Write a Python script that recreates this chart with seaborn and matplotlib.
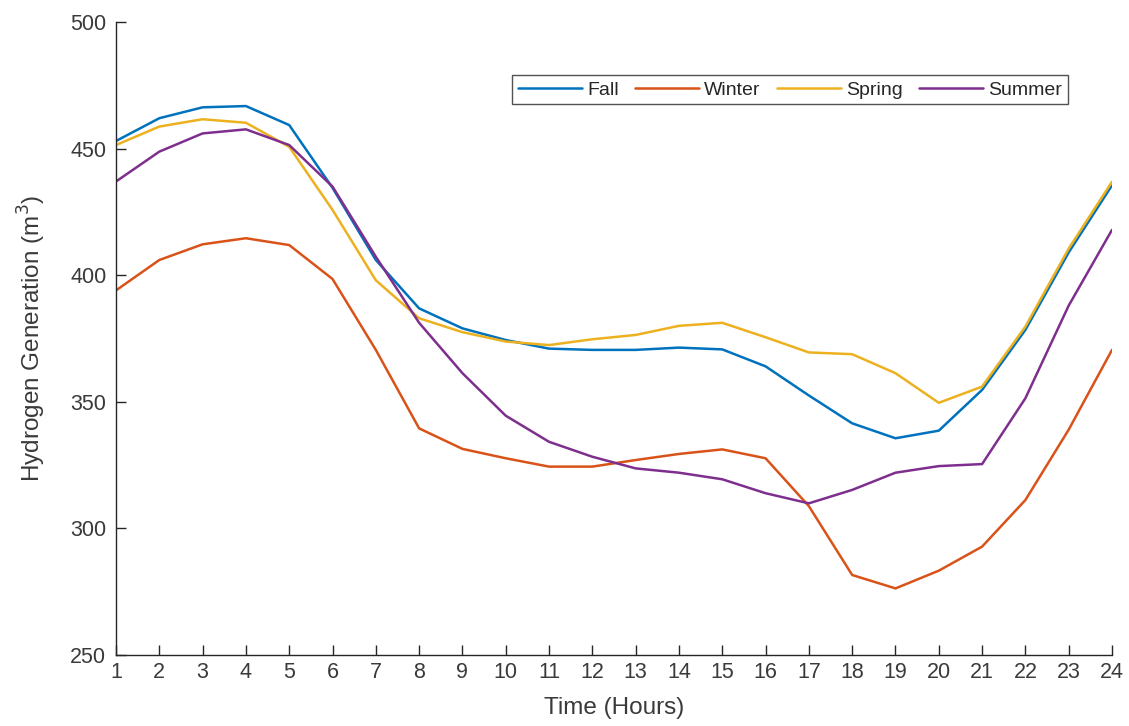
import numpy as np
import pandas as pd
import matplotlib
matplotlib.use("Agg")
import matplotlib.pyplot as plt
import seaborn as sns

hours = list(range(1, 25))
fall = [453, 462, 466.3, 466.8, 459.3, 434.5, 406, 386.9, 379, 374.4, 371, 370.5,
        370.5, 371.4, 370.7, 364, 352.5, 341.5, 335.6, 338.6, 354.7, 378.4, 409, 435.5]
winter = [394, 406, 412.2, 414.6, 411.9, 398.5, 370.5, 339.5, 331.4, 327.7, 324.4, 324.4,
          327, 329.4, 331.2, 327.7, 308.8, 281.6, 276.3, 283.3, 292.8, 311.2, 339, 370.5]
spring = [451.4, 458.7, 461.6, 460.2, 450.7, 425.8, 398, 383, 377.5, 373.8, 372.4, 374.7,
          376.4, 380, 381.2, 375.5, 369.5, 368.8, 361.3, 349.6, 356, 379.7, 410.5, 436.9]
summer = [437, 448.8, 456, 457.6, 451.4, 435, 407.3, 381.2, 361.3, 344.5, 334.2, 328.3,
          323.7, 322, 319.4, 313.9, 309.9, 315.2, 322, 324.6, 325.4, 351.4, 388, 417.9]
seasons = ["Fall", "Winter", "Spring", "Summer"]
colors = ["#0072BD", "#D95319", "#EDB120", "#7E2F8E"]

df = pd.concat([
    pd.DataFrame({"Hour": hours, "Value": vals, "Season": name})
    for name, vals in zip(seasons, [fall, winter, spring, summer])
], ignore_index=True)

sns.set_style("white")
plt.rcParams["font.family"] = ["Liberation Sans", "DejaVu Sans"]

fig = plt.figure(figsize=(11.29, 7.26), dpi=100)
ax = fig.add_axes([116 / 1129, 1 - 655 / 726, (1112 - 116) / 1129, (655 - 22) / 726])

sns.lineplot(data=df, x="Hour", y="Value", hue="Season", hue_order=seasons,
             palette=dict(zip(seasons, colors)), linewidth=1.8, ax=ax)

ax.set_xlim(1, 24)
ax.set_ylim(250, 500)
ax.set_xticks(hours)
ax.set_yticks([250, 300, 350, 400, 450, 500])
for s in ["top", "right"]:
    ax.spines[s].set_visible(False)
for s in ["left", "bottom"]:
    ax.spines[s].set_color("#262626")
    ax.spines[s].set_linewidth(1.0)
ax.tick_params(bottom=True, left=True, direction="in", length=7, width=1.0,
               colors="#262626", labelsize=15.5, labelcolor="#3a3a3a")
ax.tick_params(axis="y", pad=7)
ax.tick_params(axis="x", pad=5)

ax.set_xlabel("Time (Hours)", fontsize=17.5, color="#3a3a3a", labelpad=10)
ax.set_ylabel("Hydrogen Generation (m$^3$)", fontsize=17.5, color="#3a3a3a", labelpad=16)

leg = ax.legend(loc="upper left", bbox_to_anchor=(0.398, 0.916), ncol=4,
                frameon=True, fancybox=False, fontsize=14, handlelength=3.3,
                handletextpad=0.26, columnspacing=0.82, borderpad=0.3,
                borderaxespad=0)
leg.get_frame().set_edgecolor("#262626")
leg.get_frame().set_linewidth(1.0)
for t in leg.get_texts():
    t.set_color("#262626")
for l in leg.get_lines():
    l.set_linewidth(1.8)

fig.savefig("out.png", dpi=100)
